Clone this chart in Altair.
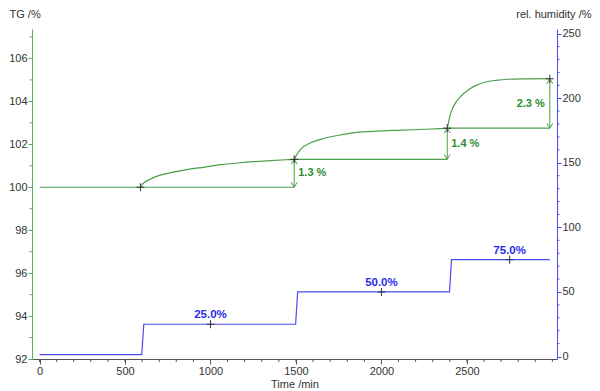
import altair as alt
import pandas as pd

# ---- data ----
tg_time = [0, 300, 590, 600, 640, 700, 776, 870, 968, 1060, 1160, 1250, 1352, 1440, 1490,
           1500, 1525, 1583, 1640, 1698, 1770, 1833, 1950, 2121, 2250, 2385,
           2392, 2400, 2415, 2435, 2460, 2490, 2520, 2560, 2610, 2670, 2740, 2850, 2985]
tg_val = [100.0, 100.0, 100.0, 100.12, 100.35, 100.55, 100.69, 100.83, 100.94, 101.05, 101.13, 101.19, 101.24, 101.28, 101.3,
          101.45, 101.75, 102.06, 102.22, 102.34, 102.45, 102.53, 102.6, 102.66, 102.7, 102.75,
          103.0, 103.3, 103.65, 103.95, 104.2, 104.42, 104.6, 104.76, 104.9, 104.98, 105.03, 105.05, 105.06]

rh_time = [0, 598, 610, 1498, 1510, 2398, 2410, 2985]
rh_val = [1.5, 1.5, 25.0, 25.0, 50.0, 50.0, 75.0, 75.0]

# step evaluation (TG)
step_time = [1490, 2385, 2985]
step_lo = [100.0, 101.3, 102.75]
step_hi = [101.3, 102.75, 105.05]
step_start = [590, 1490, 2385]
step_text = ["1.3 %", "1.4 %", "2.3 %"]
step_side = ["right", "right", "left"]

tg_cross_time = [590, 1490, 2385, 2985]
tg_cross_val = [100.0, 101.3, 102.75, 105.05]

rh_mark_time = [1000, 2000, 2750]
rh_mark_val = [25.0, 50.0, 75.0]
rh_mark_text = ["25.0%", "50.0%", "75.0%"]

x_major = [0, 500, 1000, 1500, 2000, 2500]
x_minor = list(range(0, 3001, 100))
tg_major = [92, 94, 96, 98, 100, 102, 104, 106]
tg_minor = [93, 95, 97, 99, 101, 103, 105, 107]
rh_major = [0, 50, 100, 150, 200, 250]
rh_minor = [v for v in range(10, 251, 10) if v % 50 != 0]

# ---- styling ----
W, H = 525, 330
GREEN = "#4a9f4a"
GREEN_AX = "#55b555"
GREEN_TXT = "#2e8b2e"
BLUE = "#4b4bf5"
BLUE_AX = "#4a4aff"
BLUE_TXT = "#2a2ae8"
FONT = "Liberation Sans"

xs = alt.Scale(domain=[-44, 3027], nice=False, zero=False)
ysl = alt.Scale(domain=[92, 107.37], nice=False, zero=False)
ysr = alt.Scale(domain=[-1.9, 253.6], nice=False, zero=False)

tg_df = pd.DataFrame({"t": tg_time, "v": tg_val})
rh_df = pd.DataFrame({"t": rh_time, "v": rh_val})
step_df = pd.DataFrame({"t": step_time, "lo": step_lo, "hi": step_hi, "t0": step_start,
                        "mid": [(a + b) / 2 for a, b in zip(step_lo, step_hi)],
                        "text": step_text, "side": step_side})
tgc_df = pd.DataFrame({"t": tg_cross_time, "v": tg_cross_val})
rhm_df = pd.DataFrame({"t": rh_mark_time, "v": rh_mark_val, "text": rh_mark_text})
xmin_df = pd.DataFrame({"t": x_minor})
tgmin_df = pd.DataFrame({"v": tg_minor})
rhmin_df = pd.DataFrame({"v": rh_minor})

CROSS = "M -1 0 L 1 0 M 0 -1 L 0 1"
HEAD_UP = "M -0.6 1 L 0 0 L 0.6 1"
HEAD_DOWN = "M -0.6 -1 L 0 0 L 0.6 -1"

x_axis = alt.Axis(values=x_major, format="d", title="Time /min", tickSize=5, labelPadding=1,
                  domainColor="#555555", tickColor="#555555", labelColor="#333333",
                  labelFont=FONT, labelFontSize=11, titleFont=FONT, titleFontSize=11,
                  titleFontWeight="normal", titleColor="#333333", titlePadding=2,
                  grid=False, labelFlush=False, labelOverlap=False)

left_axis = alt.Axis(values=tg_major, format="d", orient="left", title="TG /%", tickSize=4,
                     labelPadding=1,
                     domainColor=GREEN_AX, tickColor=GREEN_AX, labelColor="#333333",
                     labelFont=FONT, labelFontSize=11, titleFont=FONT, titleFontSize=11,
                     titleFontWeight="normal", titleColor="#333333", titleAngle=0,
                     titleAlign="left", titleBaseline="top", titleX=-23, titleY=-21,
                     grid=False, labelFlush=False, labelOverlap=False)

right_axis = alt.Axis(values=rh_major, format="d", orient="right", title="rel. humidity /%",
                      tickSize=4,
                      labelPadding=1, domainColor=BLUE_AX, tickColor=BLUE_AX,
                      labelColor="#333333", labelFont=FONT, labelFontSize=11,
                      titleFont=FONT, titleFontSize=11, titleFontWeight="normal",
                      titleColor="#333333", titleAngle=0, titleAlign="right",
                      titleBaseline="top", titleX=34, titleY=-21,
                      grid=False, labelFlush=False, labelOverlap=False)


def X(field):
    return alt.X(field, scale=xs)


def YL(field):
    return alt.Y(field, scale=ysl)


def YR(field):
    return alt.Y(field, scale=ysr)


# ---- left (TG) group ----
tg_line = alt.Chart(tg_df).mark_line(color=GREEN, strokeWidth=1.2, interpolate="monotone").encode(
    x=alt.X("t:Q", scale=xs, axis=x_axis),
    y=alt.Y("v:Q", scale=ysl, axis=left_axis),
)

baselines = alt.Chart(step_df).mark_rule(color=GREEN, strokeWidth=1.2).encode(
    x=X("t0:Q"), x2="t:Q", y=YL("lo:Q"),
)

arrows = alt.Chart(step_df).mark_rule(color=GREEN, strokeWidth=1).encode(
    x=X("t:Q"), y=YL("lo:Q"), y2="hi:Q",
)

heads_up = alt.Chart(step_df).mark_point(filled=False, color=GREEN, strokeWidth=1, size=100,
                                         opacity=1, shape=HEAD_UP).encode(
    x=X("t:Q"), y=YL("hi:Q"),
)

heads_down = alt.Chart(step_df).mark_point(filled=False, color=GREEN, strokeWidth=1, size=100,
                                           opacity=1, shape=HEAD_DOWN).encode(
    x=X("t:Q"), y=YL("lo:Q"),
)

tg_crosses = alt.Chart(tgc_df).mark_point(filled=False, color="#333333", strokeWidth=1, size=64,
                                          opacity=1, shape=CROSS).encode(
    x=X("t:Q"), y=YL("v:Q"),
)

step_labels_r = alt.Chart(step_df).transform_filter(alt.datum.side == "right").mark_text(
    align="left", baseline="middle", dx=4, font=FONT, fontSize=11, fontWeight="bold",
    color=GREEN_TXT).encode(
    x=X("t:Q"), y=YL("mid:Q"), text="text:N",
)

step_labels_l = alt.Chart(step_df).transform_filter(alt.datum.side == "left").mark_text(
    align="right", baseline="middle", dx=-5, font=FONT, fontSize=11, fontWeight="bold",
    color=GREEN_TXT).encode(
    x=X("t:Q"), y=YL("mid:Q"), text="text:N",
)

x_minor_ticks = alt.Chart(xmin_df).mark_rule(color="#555555", strokeWidth=1).encode(
    x=X("t:Q"), y=alt.value(H), y2=alt.value(H + 3),
)

tg_minor_ticks = alt.Chart(tgmin_df).mark_rule(color=GREEN_AX, strokeWidth=1).encode(
    y=YL("v:Q"), x=alt.value(0), x2=alt.value(-2.5),
)

left = alt.layer(tg_line, baselines, arrows, heads_up, heads_down, tg_crosses,
                 step_labels_r, step_labels_l, x_minor_ticks, tg_minor_ticks)

# ---- right (humidity) group ----
rh_line = alt.Chart(rh_df).mark_line(color=BLUE, strokeWidth=1.2).encode(
    x=X("t:Q"),
    y=alt.Y("v:Q", scale=ysr, axis=right_axis),
)

rh_crosses = alt.Chart(rhm_df).mark_point(filled=False, color="#333333", strokeWidth=1, size=64,
                                          opacity=1, shape=CROSS).encode(
    x=X("t:Q"), y=YR("v:Q"),
)

rh_labels = alt.Chart(rhm_df).mark_text(align="center", baseline="middle", dy=-9, font=FONT,
                                        fontSize=11.5, fontWeight="bold", color=BLUE_TXT).encode(
    x=X("t:Q"), y=YR("v:Q"), text="text:N",
)

rh_minor_ticks = alt.Chart(rhmin_df).mark_rule(color=BLUE_AX, strokeWidth=1).encode(
    y=YR("v:Q"), x=alt.value(W), x2=alt.value(W + 2.5),
)

right = alt.layer(rh_line, rh_crosses, rh_labels, rh_minor_ticks)

chart = alt.layer(left, right).resolve_scale(y="independent").properties(
    width=W, height=H,
    autosize=alt.AutoSizeParams(type="none"),
    padding={"left": 24, "top": 21, "right": 35, "bottom": 32},
    background="white",
).configure_view(stroke=None)

chart.save("out.html", embed_options={"renderer": "svg", "actions": False})
